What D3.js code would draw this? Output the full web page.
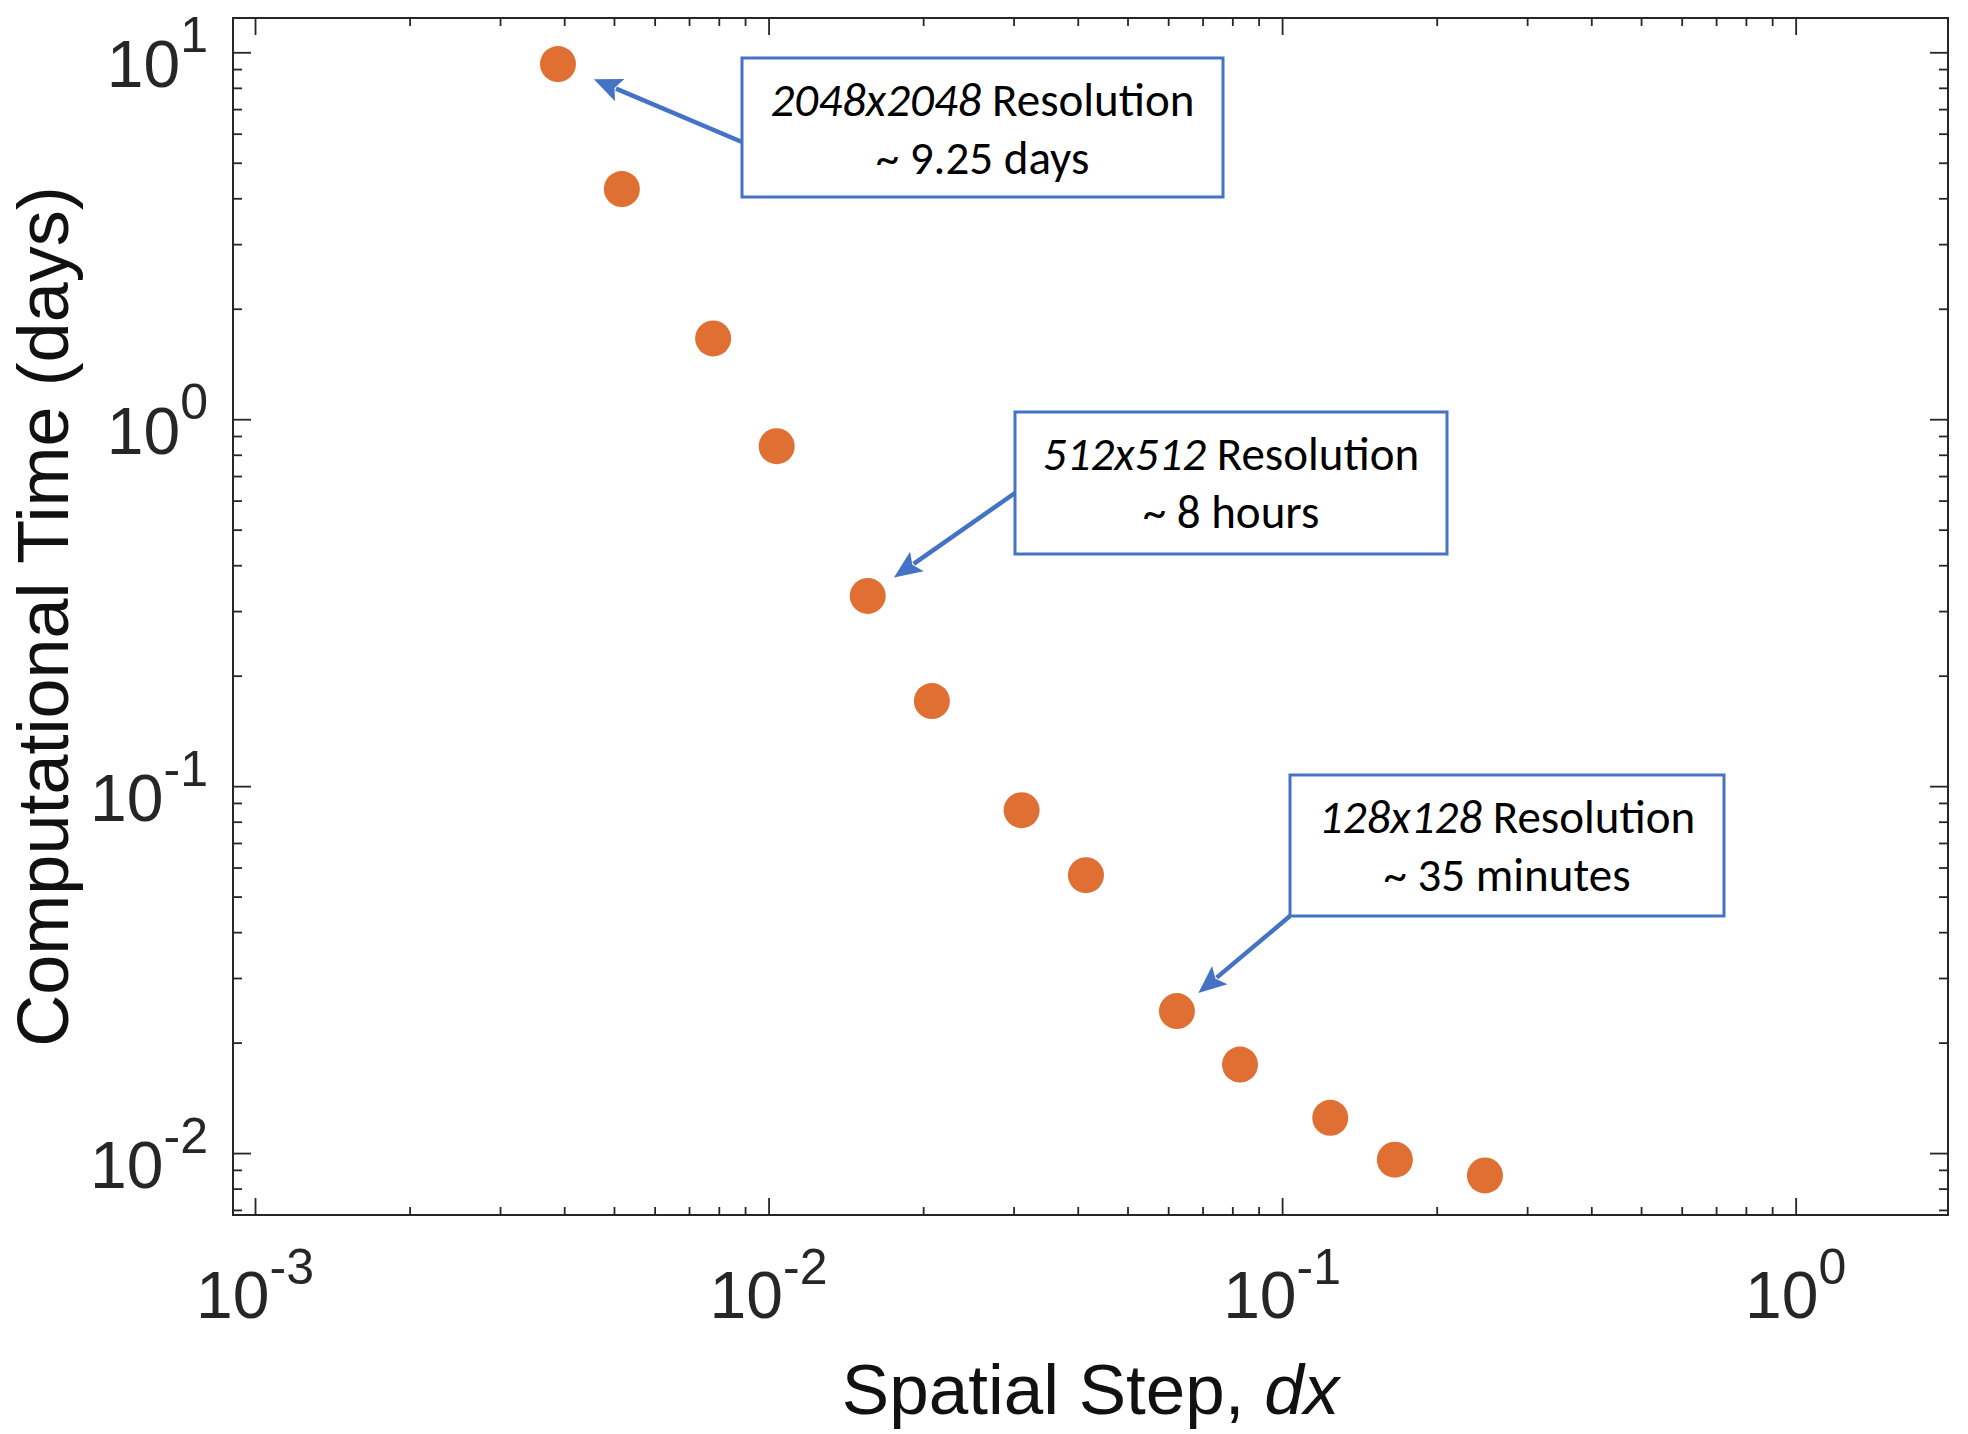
<!DOCTYPE html>
<html>
<head>
<meta charset="utf-8">
<script src="https://cdn.jsdelivr.net/npm/d3@7"></script>
<style>
  html, body { margin: 0; padding: 0; background: #ffffff; }
  svg { display: block; }
</style>
</head>
<body>
<svg id="chart" width="1968" height="1434"></svg>
<script>
// ---------------- data ----------------
const spatialStep  = [0.00389, 0.00518, 0.00780, 0.01037, 0.0156, 0.0208, 0.0311, 0.0415, 0.0624, 0.0828, 0.1241, 0.1658, 0.2483];
const computeDays  = [9.29, 4.24, 1.66, 0.844, 0.330, 0.1706, 0.0860, 0.0572, 0.02437, 0.01743, 0.01248, 0.00959, 0.00869];

const xDomain = [0.000906, 1.98];
const yDomain = [0.00678, 12.4];

const xMajorTicks     = [1e-3, 1e-2, 1e-1, 1e0];
const xTickExponents  = ["-3", "-2", "-1", "0"];
const yMajorTicks     = [1e-2, 1e-1, 1e0, 1e1];
const yTickExponents  = ["-2", "-1", "0", "1"];

const xAxisTitle      = "Spatial Step, ";
const xAxisTitleItal  = "dx";
const yAxisTitle      = "Computational Time (days)";

const annotationGrid   = ["2048x2048", "512x512", "128x128"];
const annotationWord   = [" Resolution", " Resolution", " Resolution"];
const annotationTime   = ["~ 9.25 days", "~ 8 hours", "~ 35 minutes"];
const annotationTarget = [0, 4, 8];   // index into the series

// ---------------- layout ----------------
const L = 233, R = 1948, T = 18, B = 1215;
const axisColor = "#262626";
const dotColor  = "#E06F33";
const annColor  = "#4472C4";

// box: left, top, width, height ; arrow start point ; gap from dot centre to arrow tip
const annLayout = [
  { bx: 742,  by: 58,  bw: 481, bh: 139, sx: 742,  sy: 142, gap: 39 },
  { bx: 1015, by: 412, bw: 432, bh: 142, sx: 1015, sy: 493, gap: 32 },
  { bx: 1290, by: 775, bw: 434, bh: 141, sx: 1290, sy: 916, gap: 28 }
];

const svg = d3.select("#chart");

const x = d3.scaleLog().domain(xDomain).range([L, R]);
const y = d3.scaleLog().domain(yDomain).range([B, T]);

const isMajor = v => Math.abs(Math.log10(v) - Math.round(Math.log10(v))) < 1e-9;
const xMinor = x.ticks().filter(v => !isMajor(v) && v > xDomain[0] && v < xDomain[1]);
const yMinor = y.ticks().filter(v => !isMajor(v) && v > yDomain[0] && v < yDomain[1]);

function styleAxis(g) {
  g.select(".domain").remove();
  g.selectAll(".tick line").attr("stroke", axisColor).attr("stroke-width", 1.8);
  g.selectAll(".tick text").remove();
}

// bottom / top ticks (inward)
svg.append("g").attr("transform", `translate(0,${B})`)
  .call(d3.axisBottom(x).tickValues(xMinor).tickSize(-8).tickFormat("")).call(styleAxis);
svg.append("g").attr("transform", `translate(0,${B})`)
  .call(d3.axisBottom(x).tickValues(xMajorTicks).tickSize(-17).tickFormat("")).call(styleAxis);
svg.append("g").attr("transform", `translate(0,${T})`)
  .call(d3.axisTop(x).tickValues(xMinor).tickSize(-8).tickFormat("")).call(styleAxis);
svg.append("g").attr("transform", `translate(0,${T})`)
  .call(d3.axisTop(x).tickValues(xMajorTicks).tickSize(-17).tickFormat("")).call(styleAxis);

// left / right ticks (inward)
svg.append("g").attr("transform", `translate(${L},0)`)
  .call(d3.axisLeft(y).tickValues(yMinor).tickSize(-9).tickFormat("")).call(styleAxis);
svg.append("g").attr("transform", `translate(${L},0)`)
  .call(d3.axisLeft(y).tickValues(yMajorTicks).tickSize(-18).tickFormat("")).call(styleAxis);
svg.append("g").attr("transform", `translate(${R},0)`)
  .call(d3.axisRight(y).tickValues(yMinor).tickSize(-9).tickFormat("")).call(styleAxis);
svg.append("g").attr("transform", `translate(${R},0)`)
  .call(d3.axisRight(y).tickValues(yMajorTicks).tickSize(-18).tickFormat("")).call(styleAxis);

// frame
svg.append("rect")
  .attr("x", L).attr("y", T).attr("width", R - L).attr("height", B - T)
  .attr("fill", "none").attr("stroke", axisColor).attr("stroke-width", 2);

// x tick labels
const xLab = svg.append("g")
  .attr("font-family", "'Liberation Sans', Arial, Helvetica, sans-serif")
  .attr("fill", axisColor);
xMajorTicks.forEach((v, i) => {
  const t = xLab.append("text").attr("x", x(v)).attr("y", B + 103).attr("text-anchor", "middle");
  t.append("tspan").attr("font-size", 66).text("10");
  t.append("tspan").attr("font-size", 50).attr("dy", -34).text(xTickExponents[i]);
});

// y tick labels
const yLab = svg.append("g")
  .attr("font-family", "'Liberation Sans', Arial, Helvetica, sans-serif")
  .attr("fill", axisColor);
yMajorTicks.forEach((v, i) => {
  const t = yLab.append("text").attr("x", 208).attr("y", y(v) + 35).attr("text-anchor", "end");
  t.append("tspan").attr("font-size", 66).text("10");
  t.append("tspan").attr("font-size", 50).attr("dy", -35).text(yTickExponents[i]);
});

// axis titles
const xt = svg.append("text")
  .attr("x", (L + R) / 2).attr("y", 1414)
  .attr("text-anchor", "middle")
  .attr("font-family", "'Liberation Sans', Arial, Helvetica, sans-serif")
  .attr("font-size", 71).attr("fill", "#111");
xt.append("tspan").text(xAxisTitle);
xt.append("tspan").attr("font-style", "italic").text(xAxisTitleItal);

svg.append("text")
  .attr("transform", `translate(68,${(T + B) / 2}) rotate(-90)`)
  .attr("text-anchor", "middle")
  .attr("font-family", "'Liberation Sans', Arial, Helvetica, sans-serif")
  .attr("font-size", 72).attr("fill", "#111")
  .text(yAxisTitle);

// data points
svg.append("g").selectAll("circle")
  .data(spatialStep.map((d, i) => ({ dx: d, t: computeDays[i] })))
  .join("circle")
  .attr("cx", d => x(d.dx))
  .attr("cy", d => y(d.t))
  .attr("r", 18)
  .attr("fill", dotColor);

// annotations
const ann = svg.append("g");
annLayout.forEach((a, i) => {
  const idx = annotationTarget[i];
  const px = x(spatialStep[idx]), py = y(computeDays[idx]);
  const vx = a.sx - px, vy = a.sy - py;
  const len = Math.hypot(vx, vy);
  const ux = vx / len, uy = vy / len;
  const tipX = px + ux * a.gap, tipY = py + uy * a.gap;
  const headLen = 28, headHalf = 12;
  const baseX = tipX + ux * headLen, baseY = tipY + uy * headLen;
  // shaft
  ann.append("line")
    .attr("x1", a.sx).attr("y1", a.sy)
    .attr("x2", baseX - ux * 4).attr("y2", baseY - uy * 4)
    .attr("stroke", annColor).attr("stroke-width", 4.5);
  // head
  const nx = -uy, ny = ux;
  ann.append("path")
    .attr("d", `M${tipX},${tipY} L${baseX + nx * headHalf},${baseY + ny * headHalf} L${tipX + ux * headLen * 0.8},${tipY + uy * headLen * 0.8} L${baseX - nx * headHalf},${baseY - ny * headHalf} Z`)
    .attr("fill", annColor);
  // box
  ann.append("rect")
    .attr("x", a.bx).attr("y", a.by).attr("width", a.bw).attr("height", a.bh)
    .attr("fill", "#ffffff").attr("stroke", annColor).attr("stroke-width", 3);
  const cx = a.bx + a.bw / 2;
  const t1 = ann.append("text")
    .attr("x", cx).attr("y", a.by + 58).attr("text-anchor", "middle")
    .attr("font-family", "Carlito, Lato, 'Open Sans', sans-serif")
    .attr("font-size", 47).attr("fill", "#000");
  t1.append("tspan").attr("font-style", "italic").text(annotationGrid[i]);
  t1.append("tspan").text(annotationWord[i]);
  ann.append("text")
    .attr("x", cx).attr("y", a.by + 116).attr("text-anchor", "middle")
    .attr("font-family", "Carlito, Lato, 'Open Sans', sans-serif")
    .attr("font-size", 47).attr("fill", "#000")
    .text(annotationTime[i]);
});
</script>
</body>
</html>
